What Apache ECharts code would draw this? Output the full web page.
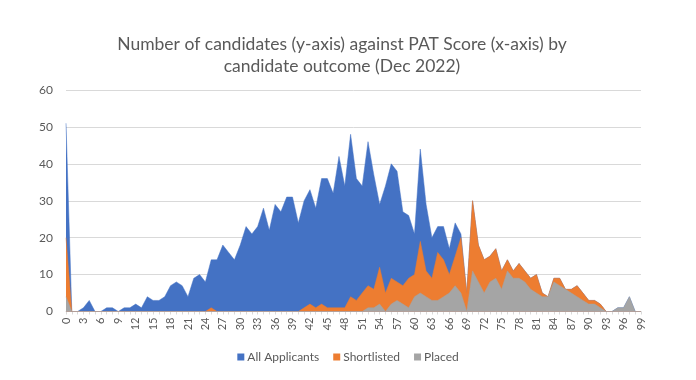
<!DOCTYPE html>
<html>
<head>
<meta charset="utf-8">
<script src="https://cdn.jsdelivr.net/npm/echarts@6/dist/echarts.min.js"></script>
<style>
html,body{margin:0;padding:0;background:#fff;}
#chart{width:696px;height:380px;}
</style>
</head>
<body>
<div id="chart"></div>
<script>
// PAT score categories 0..99
const scores = [];
for (let s = 0; s <= 99; s++) scores.push(String(s));

const allApplicants = [
  51, 0, 0, 1, 3, 0, 0, 1, 1, 0,
  1, 1, 2, 1, 4, 3, 3, 4, 7, 8,
  7, 4, 9, 10, 8, 14, 14, 18, 16, 14,
  18, 23, 21, 23, 28, 22, 29, 27, 31, 31,
  24, 30, 33, 28, 36, 36, 32, 42, 34, 48,
  36, 34, 46, 37, 29, 34, 40, 38, 27, 26,
  21, 44, 29, 20, 23, 23, 17, 24, 21, 5,
  30, 18, 14, 15, 17, 11, 14, 11, 13, 11,
  9, 10, 5, 4, 9, 9, 6, 6, 7, 5,
  3, 3, 2, 0, 0, 1, 1, 4, 0, 0
];

const shortlisted = [
  20, 0, 0, 0, 0, 0, 0, 0, 0, 0,
  0, 0, 0, 0, 0, 0, 0, 0, 0, 0,
  0, 0, 0, 0, 0, 1, 0, 0, 0, 0,
  0, 0, 0, 0, 0, 0, 0, 0, 0, 0,
  0, 1, 2, 1, 2, 1, 1, 1, 1, 4,
  3, 5, 7, 6, 12, 5, 9, 8, 7, 9,
  10, 19, 11, 9, 16, 14, 10, 15, 20, 5,
  30, 18, 14, 15, 17, 11, 14, 11, 13, 11,
  9, 10, 5, 4, 9, 9, 6, 6, 7, 5,
  3, 3, 2, 0, 0, 0, 0, 0, 0, 0
];

const placed = [
  4, 0, 0, 0, 0, 0, 0, 0, 0, 0,
  0, 0, 0, 0, 0, 0, 0, 0, 0, 0,
  0, 0, 0, 0, 0, 0, 0, 0, 0, 0,
  0, 0, 0, 0, 0, 0, 0, 0, 0, 0,
  0, 0, 0, 0, 0, 0, 0, 0, 0, 0,
  0, 0, 1, 1, 2, 0, 2, 3, 2, 1,
  4, 5, 4, 3, 3, 4, 5, 7, 5, 0,
  11, 8, 5, 8, 9, 6, 11, 9, 9, 8,
  6, 5, 4, 4, 8, 7, 6, 5, 4, 3,
  2, 2, 1, 0, 0, 1, 1, 4, 0, 0
];

const seriesNames = ['All Applicants', 'Shortlisted', 'Placed'];
const seriesColors = ['#4472C4', '#ED7D31', '#A5A5A5'];
const seriesData = [allApplicants, shortlisted, placed];
const titleText = 'Number of candidates (y-axis) against PAT Score (x-axis) by\ncandidate outcome (Dec 2022)';

const FONT = 'Lato, "Open Sans", sans-serif';
const chart = echarts.init(document.getElementById('chart'), null, {renderer: 'canvas'});

chart.setOption({
  animation: false,
  backgroundColor: '#ffffff',
  title: {
    text: titleText,
    left: 337,
    top: 28,
    textAlign: 'center',
    textStyle: {
      fontFamily: FONT,
      fontSize: 17.5,
      fontWeight: 'normal',
      color: '#595959',
      lineHeight: 22
    }
  },
  legend: {
    data: seriesNames,
    left: 'center',
    top: 346,
    icon: 'rect',
    itemWidth: 7,
    itemHeight: 7,
    itemGap: 14,
    textStyle: {fontFamily: FONT, fontSize: 12, color: '#595959', padding: [0, 0, 0, -2]}
  },
  grid: {left: 66, right: 55, top: 90, bottom: 68.5, containLabel: false},
  xAxis: {
    type: 'category',
    data: scores,
    boundaryGap: false,
    axisLine: {lineStyle: {color: '#d9d9d9'}},
    axisTick: {show: true, interval: 0, length: 3, lineStyle: {color: '#d9d9d9'}},
    axisLabel: {
      interval: 2,
      rotate: 90,
      margin: 6,
      fontFamily: FONT,
      fontSize: 11,
      color: '#595959'
    },
    splitLine: {show: false}
  },
  yAxis: {
    type: 'value',
    min: 0,
    max: 60,
    interval: 10,
    axisLine: {show: false},
    axisTick: {show: false},
    axisLabel: {margin: 13, fontFamily: FONT, fontSize: 12, color: '#595959'},
    splitLine: {lineStyle: {color: '#d9d9d9', width: 1}}
  },
  series: seriesNames.map((name, k) => ({
    name: name,
    type: 'line',
    data: seriesData[k],
    symbol: 'none',
    showSymbol: false,
    smooth: false,
    itemStyle: {color: seriesColors[k]},
    lineStyle: {width: 0.5, color: seriesColors[k]},
    areaStyle: {color: seriesColors[k], opacity: 1},
    z: 2 + k
  }))
});
</script>
</body>
</html>
